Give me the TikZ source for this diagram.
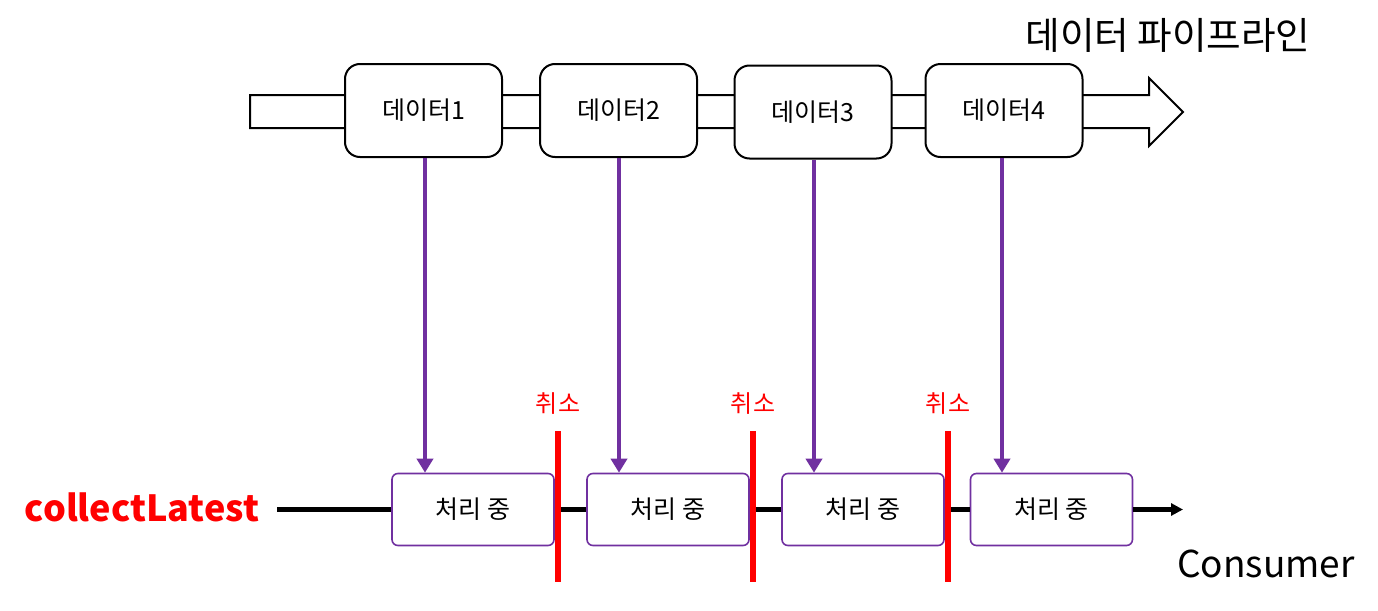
\documentclass[tikz,border=0pt]{standalone}
\usepackage{fontspec}
\setmainfont{Noto Sans CJK KR}
\usepackage{xcolor}
\definecolor{purp}{HTML}{7030A0}
\definecolor{stop}{HTML}{FF0000}
\usepackage{tikz}
\usetikzlibrary{positioning,calc,arrows.meta}

\begin{document}
\begin{tikzpicture}[x=0.5pt,y=-0.5pt,font=\fontsize{12.5}{15}\selectfont,
  databox/.style={draw,line width=1pt,fill=white,rounded corners=7.5pt,minimum width=78.5pt,minimum height=46.5pt,inner sep=0pt},
  workbox/.style={draw=purp,line width=0.8pt,fill=white,rounded corners=3pt,minimum width=81pt,minimum height=36pt,inner sep=0pt},
  feed/.style={-{Triangle[length=7pt,width=8pt]},purp,line width=2pt},
  flow/.style={line width=2.3pt},
  cutbar/.style={fill=stop,minimum width=3pt,minimum height=75.5pt,inner sep=0pt},
  cutlbl/.style={text=stop,inner sep=1pt,font=\fontsize{12}{14}\selectfont}]
  \useasboundingbox (0,0) rectangle (1378,611);
  % pipeline band
  \draw[line width=1pt,fill=white] (250,95) -- (1149,95) -- (1149,78) -- (1183,112) -- (1149,146) -- (1149,128) -- (250,128) -- cycle;
  \node[font=\fontsize{18.8}{22}\selectfont] (title) at (1168,35) {데이터 파이프라인};
  % data
  \node[databox] (d1) at (423.5,110.5) {데이터1};
  \node[databox] (d2) at (618.5,110.5) {데이터2};
  \node[databox] (d3) at (813,112) {데이터3};
  \node[databox] (d4) at (1004,110.5) {데이터4};
  % consumer line
  \node[workbox] (w1) at (473,509.5) {처리 중};
  \node[workbox] (w2) at (668,509.5) {처리 중};
  \node[workbox] (w3) at (863,509.5) {처리 중};
  \node[workbox] (w4) at (1051.5,509.5) {처리 중};
  \coordinate (in) at (277,509.5);
  \coordinate (out) at (1183,509.5);
  \node[text=stop,font=\fontsize{18}{21}\selectfont\bfseries] (cl) at (142,507) {collectLatest};
  \node[font=\fontsize{18.5}{21}\selectfont] (cons) at (1266,564) {Consumer};
  \draw[flow] (in) -- (w1.west);
  \draw[flow] (w1.east) -- (w2.west);
  \draw[flow] (w2.east) -- (w3.west);
  \draw[flow] (w3.east) -- (w4.west);
  \draw[flow,-{Triangle[length=6pt,width=6pt]}] (w4.east) -- (out);
  \draw[feed] (d1.south -| 425,0) -- (w1.north -| 425,0);
  \draw[feed] (d2.south -| 619,0) -- (w2.north -| 619,0);
  \draw[feed] (d3.south -| 814,0) -- (w3.north -| 814,0);
  \draw[feed] (d4.south -| 1002,0) -- (w4.north -| 1002,0);
  % cancel marks
  \node[cutbar] (c1) at (558,506.5) {};
  \node[cutbar] (c2) at (753,506.5) {};
  \node[cutbar] (c3) at (948,506.5) {};
  \foreach \i in {1,2,3}
    \node[cutlbl,above=7pt of c\i] (t\i) {취소};
\end{tikzpicture}
\end{document}
